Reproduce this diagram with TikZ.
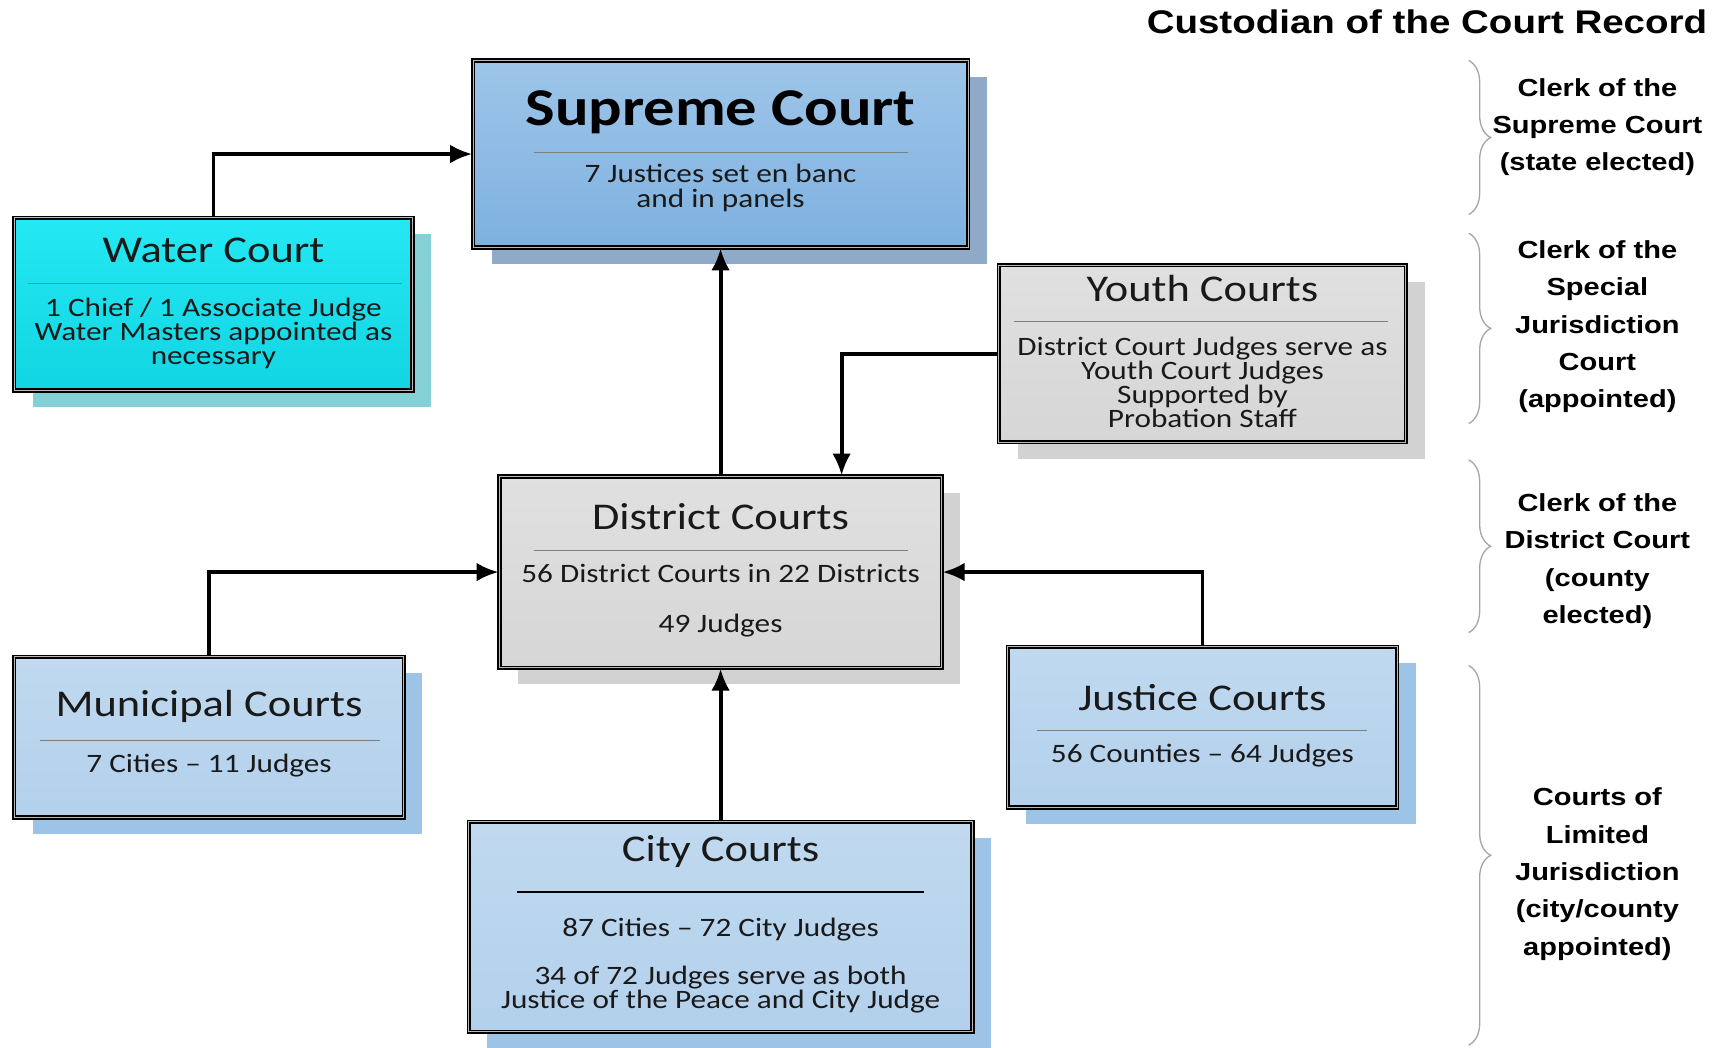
\documentclass[tikz,border=0pt]{standalone}
\usepackage{fontspec}
\setmainfont{Carlito}
\newfontfamily\arialfont{Liberation Sans}
\usetikzlibrary{arrows.meta,shadows,decorations.pathreplacing,positioning}
\setlength{\lineskiplimit}{-30pt}

\definecolor{suptop}{HTML}{9EC5E9}
\definecolor{supbot}{HTML}{7EB1E0}
\definecolor{supshadow}{HTML}{8FAAC8}
\definecolor{watertop}{HTML}{24E8F3}
\definecolor{waterbot}{HTML}{12D5E3}
\definecolor{watershadow}{HTML}{84D0D5}
\definecolor{greytop}{HTML}{E0E0E0}
\definecolor{greybot}{HTML}{D6D6D6}
\definecolor{greyshadow}{HTML}{D2D2D2}
\definecolor{lbtop}{HTML}{C0D9EF}
\definecolor{lbbot}{HTML}{B3D0EC}
\definecolor{lbshadow}{HTML}{9DC3E6}

\tikzset{
  courtbox/.style={draw=black, line width=1.5pt, double=gray!55, double distance=0.9pt, inner sep=0pt},
  supfill/.style={top color=suptop, bottom color=supbot,
    drop shadow={fill=supshadow, opacity=1, shadow xshift=17pt, shadow yshift=-15pt}},
  waterfill/.style={top color=watertop, bottom color=waterbot,
    drop shadow={fill=watershadow, opacity=1, shadow xshift=17pt, shadow yshift=-15pt}},
  greyfill/.style={top color=greytop, bottom color=greybot,
    drop shadow={fill=greyshadow, opacity=1, shadow xshift=17pt, shadow yshift=-15pt}},
  lbfill/.style={top color=lbtop, bottom color=lbbot,
    drop shadow={fill=lbshadow, opacity=1, shadow xshift=17pt, shadow yshift=-15pt}},
  supname/.style={font=\bfseries\fontsize{56.8}{60}\selectfont, inner sep=0pt, yscale=0.85},
  heading/.style={font=\fontsize{40.4}{42}\selectfont, inner sep=0pt, text=black!90, yscale=0.85},
  bodytext/.style={font=\fontsize{28.4}{25.9}\selectfont, align=center, inner sep=0pt, text=black!90, yscale=0.85},
  sepline/.style={draw=gray, line width=1pt},
  conn/.style={-{Latex[length=20pt,width=17pt]}, line width=3.5pt},
  clerk/.style={font=\arialfont\bfseries\fontsize{26.4}{40}\selectfont, align=center, inner sep=0pt, yscale=0.85},
  clerkbrace/.style={draw=gray!70, line width=1.2pt, decorate, decoration={brace, amplitude=20pt}}
}

\begin{document}
\begin{tikzpicture}[x=1pt,y=-1pt,>=latex]

   \useasboundingbox (0,0) rectangle (1568,952);

   \node[clerk, font=\arialfont\bfseries\fontsize{35}{38}\selectfont, anchor=east] (record) at (1552,20) {Custodian of the Court Record};

   % courts
   \node[courtbox, supfill, minimum width=450pt, minimum height=170pt] (sup) at (655,140) {};
   \node[supname] (suptitle) at (655,102) {Supreme Court};
   \draw[sepline] (485,139) -- (825,139);
   \node[bodytext, font=\fontsize{28.4}{27}\selectfont] (suptext) at (655,171) {7 Justices set en banc\\and in panels};

   \node[courtbox, waterfill, minimum width=362pt, minimum height=157pt] (water) at (194,276.5) {};
   \node[heading] (watertitle) at (194,228) {Water Court};
   \draw[sepline] (25,258) -- (365,258);
   \node[bodytext] (watertext) at (194,303) {1 Chief / 1 Associate Judge\\Water Masters appointed as\\necessary};

   \node[courtbox, greyfill, minimum width=370pt, minimum height=161pt] (youth) at (1093,321.5) {};
   \node[heading] (youthtitle) at (1093,262) {Youth Courts};
   \draw[sepline] (922,292) -- (1262,292);
   \node[bodytext, font=\fontsize{28.4}{25.5}\selectfont] (youthtext) at (1093,347.5) {District Court Judges serve as\\Youth Court Judges\\Supported by\\Probation Staff};

   \node[courtbox, greyfill, minimum width=402pt, minimum height=174pt] (dist) at (655,520) {};
   \node[heading] (disttitle) at (655,470) {District Courts};
   \draw[sepline] (485,500) -- (825,500);
   \node[bodytext, font=\fontsize{28.4}{54}\selectfont] (disttext) at (655,546) {56 District Courts in 22 Districts\\49 Judges};

   \node[courtbox, lbfill, minimum width=354pt, minimum height=146pt] (muni) at (190,670) {};
   \node[heading] (munititle) at (190,642) {Municipal Courts};
   \draw[sepline] (36,673) -- (345,673);
   \node[bodytext] (munitext) at (190,696) {7 Cities -- 11 Judges};

   \node[courtbox, lbfill, minimum width=354pt, minimum height=146pt] (just) at (1093,661) {};
   \node[heading] (justtitle) at (1093,634) {Justice Courts};
   \draw[sepline] (943,664) -- (1243,664);
   \node[bodytext] (justtext) at (1093,687) {56 Counties -- 64 Judges};

   \node[courtbox, lbfill, minimum width=458pt, minimum height=191pt] (city) at (655,842.5) {};
   \node[heading] (citytitle) at (655,774) {City Courts};
   \draw[sepline, draw=black, line width=1.4pt] (470,811) -- (840,811);
   \node[bodytext] (citytext) at (655,845) {87 Cities -- 72 City Judges};
   \node[bodytext, font=\fontsize{28.4}{24.7}\selectfont] (citynote) at (655,899.5) {34 of 72 Judges serve as both\\Justice of the Peace and City Judge};

   % connectors
   \draw[conn] (water.north) |- (sup.west);
   \draw[conn] (dist.north) -- (sup.south);
   \draw[conn] (youth.west) -| ([xshift=110pt]dist.north);
   \draw[conn] (muni.north) |- (dist.west);
   \draw[conn] (just.north) |- (dist.east);
   \draw[conn] (city.north) -- (dist.south);

   % custodians
   \draw[clerkbrace] (1335,55) -- (1335,195);
   \draw[clerkbrace] (1335,212) -- (1335,385);
   \draw[clerkbrace] (1335,418) -- (1335,575);
   \draw[clerkbrace] (1335,605) -- (1335,950);

   \node[clerk] (clerksup) at (1452,115.5) {Clerk of the\\Supreme Court\\(state elected)};
   \node[clerk] (clerkspec) at (1452,297) {Clerk of the\\Special\\Jurisdiction\\Court\\(appointed)};
   \node[clerk] (clerkdist) at (1452,510) {Clerk of the\\District Court\\(county\\elected)};
   \node[clerk] (clerklim) at (1452,794.5) {Courts of\\Limited\\Jurisdiction\\(city/county\\appointed)};

\end{tikzpicture}
\end{document}
